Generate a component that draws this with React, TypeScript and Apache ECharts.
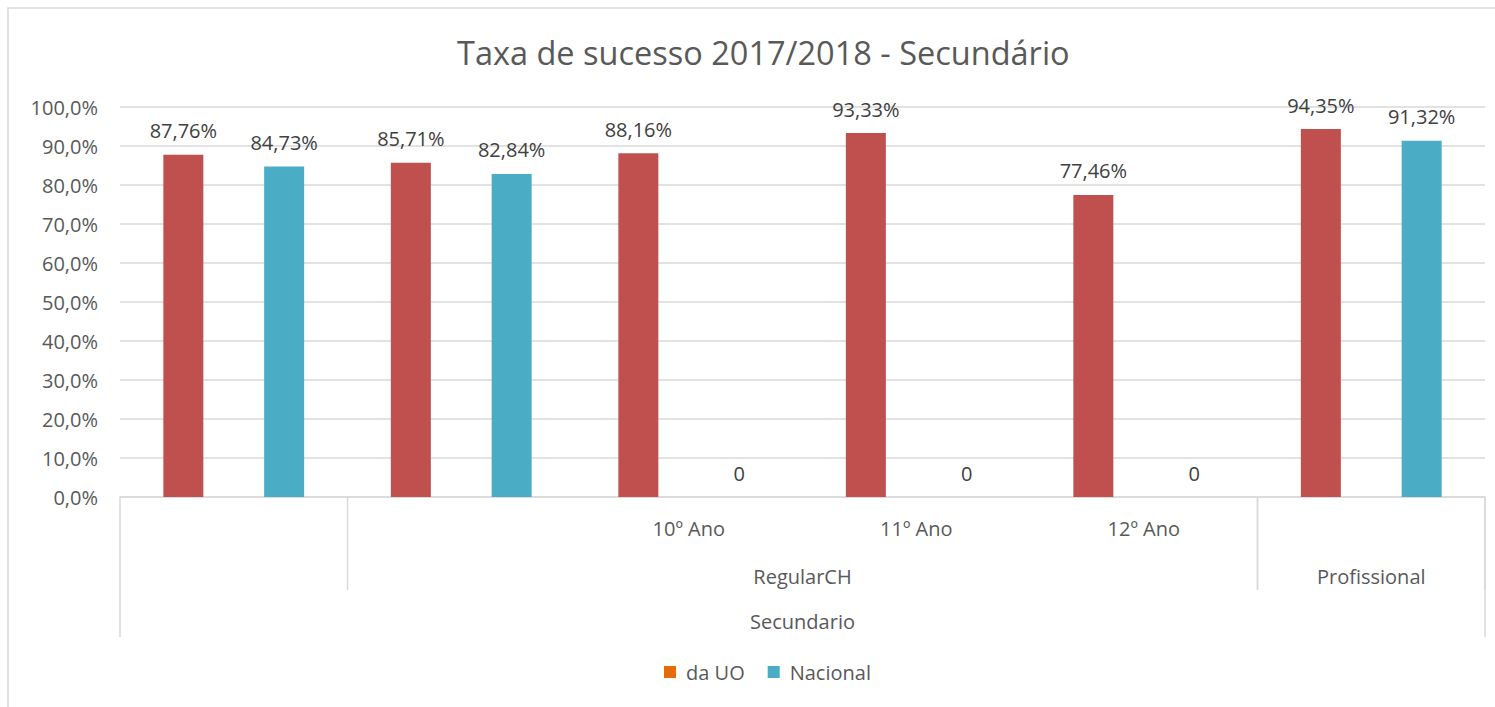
import React, { useEffect, useRef } from "react";
import * as echarts from "echarts";

const categories = ["Secundario", "RegularCH", "10º Ano", "11º Ano", "12º Ano", "Profissional"];
const level1Labels = ["", "", "10º Ano", "11º Ano", "12º Ano", ""];
const level2Groups = [
  { name: "RegularCH", from: 1, to: 4 },
  { name: "Profissional", from: 5, to: 5 },
];
const level3Groups = [{ name: "Secundario", from: 0, to: 5 }];
const daUO = [87.76, 85.71, 88.16, 93.33, 77.46, 94.35];
const nacional = [84.73, 82.84, 0, 0, 0, 91.32];
const seriesNames = ["da UO", "Nacional"];

const FONT = "'Open Sans', sans-serif";
const GRAY = "#595959";
const LINE = "#d9d9d9";
const FS = 20;

const fmtLabel = (v: number) => (v === 0 ? "0" : v.toFixed(2).replace(".", ",") + "%");

export default function App() {
  const ref = useRef<HTMLDivElement>(null);
  useEffect(() => {
    if (!ref.current) return;
    const chart = echarts.init(ref.current, null, { renderer: "svg" });
    const gridTop = 107;
    const gridBottom = 210;
    const option: any = {
      animation: false,
      backgroundColor: "#ffffff",
      title: {
        text: "Taxa de sucesso 2017/2018 - Secundário",
        left: 452,
        top: 31,
        textStyle: { fontFamily: FONT, fontSize: 32.5, fontWeight: "normal", color: GRAY },
      },
      legend: {
        data: [
          { name: seriesNames[0], itemStyle: { color: "#E46C0A" } },
          { name: seriesNames[1], itemStyle: { color: "#4BACC6" } },
        ],
        top: 657,
        left: 659,
        icon: "rect",
        itemWidth: 12,
        itemHeight: 12,
        itemGap: 23,
        textStyle: { fontFamily: FONT, fontSize: FS, color: GRAY, padding: [0, 0, 0, 5] },
      },
      grid: { left: 120, right: 10, top: gridTop, bottom: gridBottom, containLabel: false },
      xAxis: {
        type: "category",
        data: categories,
        axisLine: { lineStyle: { color: LINE, width: 1.5 } },
        axisTick: { show: false },
        axisLabel: {
          interval: 0,
          margin: 21,
          fontFamily: FONT,
          fontSize: FS,
          color: GRAY,
          formatter: (_v: string, i: number) => level1Labels[i],
        },
      },
      yAxis: {
        type: "value",
        min: 0,
        max: 100,
        interval: 10,
        axisLine: { show: false },
        axisTick: { show: false },
        splitLine: { lineStyle: { color: LINE, width: 1.5 } },
        axisLabel: {
          margin: 22,
          fontFamily: FONT,
          fontSize: FS,
          color: GRAY,
          formatter: (v: number) => v.toFixed(1).replace(".", ",") + "%",
        },
      },
      series: [
        {
          name: seriesNames[0],
          type: "bar",
          data: daUO,
          barWidth: 40,
          barGap: "152%",
          itemStyle: { color: "#C0504D" },
          label: {
            show: true,
            position: "top",
            distance: 14,
            fontFamily: FONT,
            fontSize: FS,
            color: "#404040",
            formatter: (p: any) => fmtLabel(p.value),
          },
        },
        {
          name: seriesNames[1],
          type: "bar",
          data: nacional,
          barWidth: 40,
          itemStyle: { color: "#4BACC6" },
          label: {
            show: true,
            position: "top",
            distance: 14,
            fontFamily: FONT,
            fontSize: FS,
            color: "#404040",
            formatter: (p: any) => fmtLabel(p.value),
          },
        },
      ],
    };
    chart.setOption(option);

    const h = ref.current.clientHeight;
    const axisY = h - gridBottom;
    const c0 = chart.convertToPixel({ xAxisIndex: 0 }, 0) as number;
    const c1 = chart.convertToPixel({ xAxisIndex: 0 }, 1) as number;
    const w = c1 - c0;
    const left = (i: number) => c0 - w / 2 + i * w;
    const graphics: any[] = [
      {
        type: "rect",
        shape: { x: 8, y: 8, width: 1600, height: 800 },
        style: { fill: "none", stroke: LINE, lineWidth: 1.5 },
        silent: true,
        z: -1,
      },
    ];
    const vline = (x: number, y2: number) => ({
      type: "line",
      shape: { x1: x, y1: axisY, x2: x, y2 },
      style: { stroke: LINE, lineWidth: 1.5 },
      silent: true,
    });
    const l2Bottom = axisY + 93;
    const l3Bottom = axisY + 140;
    const groupText = (name: string, x: number, y: number) => ({
      type: "text",
      x,
      y,
      style: {
        text: name,
        fontFamily: FONT,
        fontSize: FS,
        fill: GRAY,
        textAlign: "center",
        textVerticalAlign: "middle",
      },
      silent: true,
    });
    level2Groups.forEach((g) => {
      graphics.push(vline(left(g.from), l2Bottom));
      graphics.push(vline(left(g.to + 1), l2Bottom));
      graphics.push(groupText(g.name, (left(g.from) + left(g.to + 1)) / 2, axisY + 79));
    });
    level3Groups.forEach((g) => {
      graphics.push(vline(left(g.from), l3Bottom));
      graphics.push(vline(left(g.to + 1), l3Bottom));
      graphics.push(groupText(g.name, (left(g.from) + left(g.to + 1)) / 2, axisY + 124));
    });
    chart.setOption({ graphic: graphics });

    return () => chart.dispose();
  }, []);
  return (
    <div
      ref={ref}
      style={{ position: "fixed", left: 0, top: 0, width: 1495, height: 707, background: "#fff" }}
    />
  );
}
